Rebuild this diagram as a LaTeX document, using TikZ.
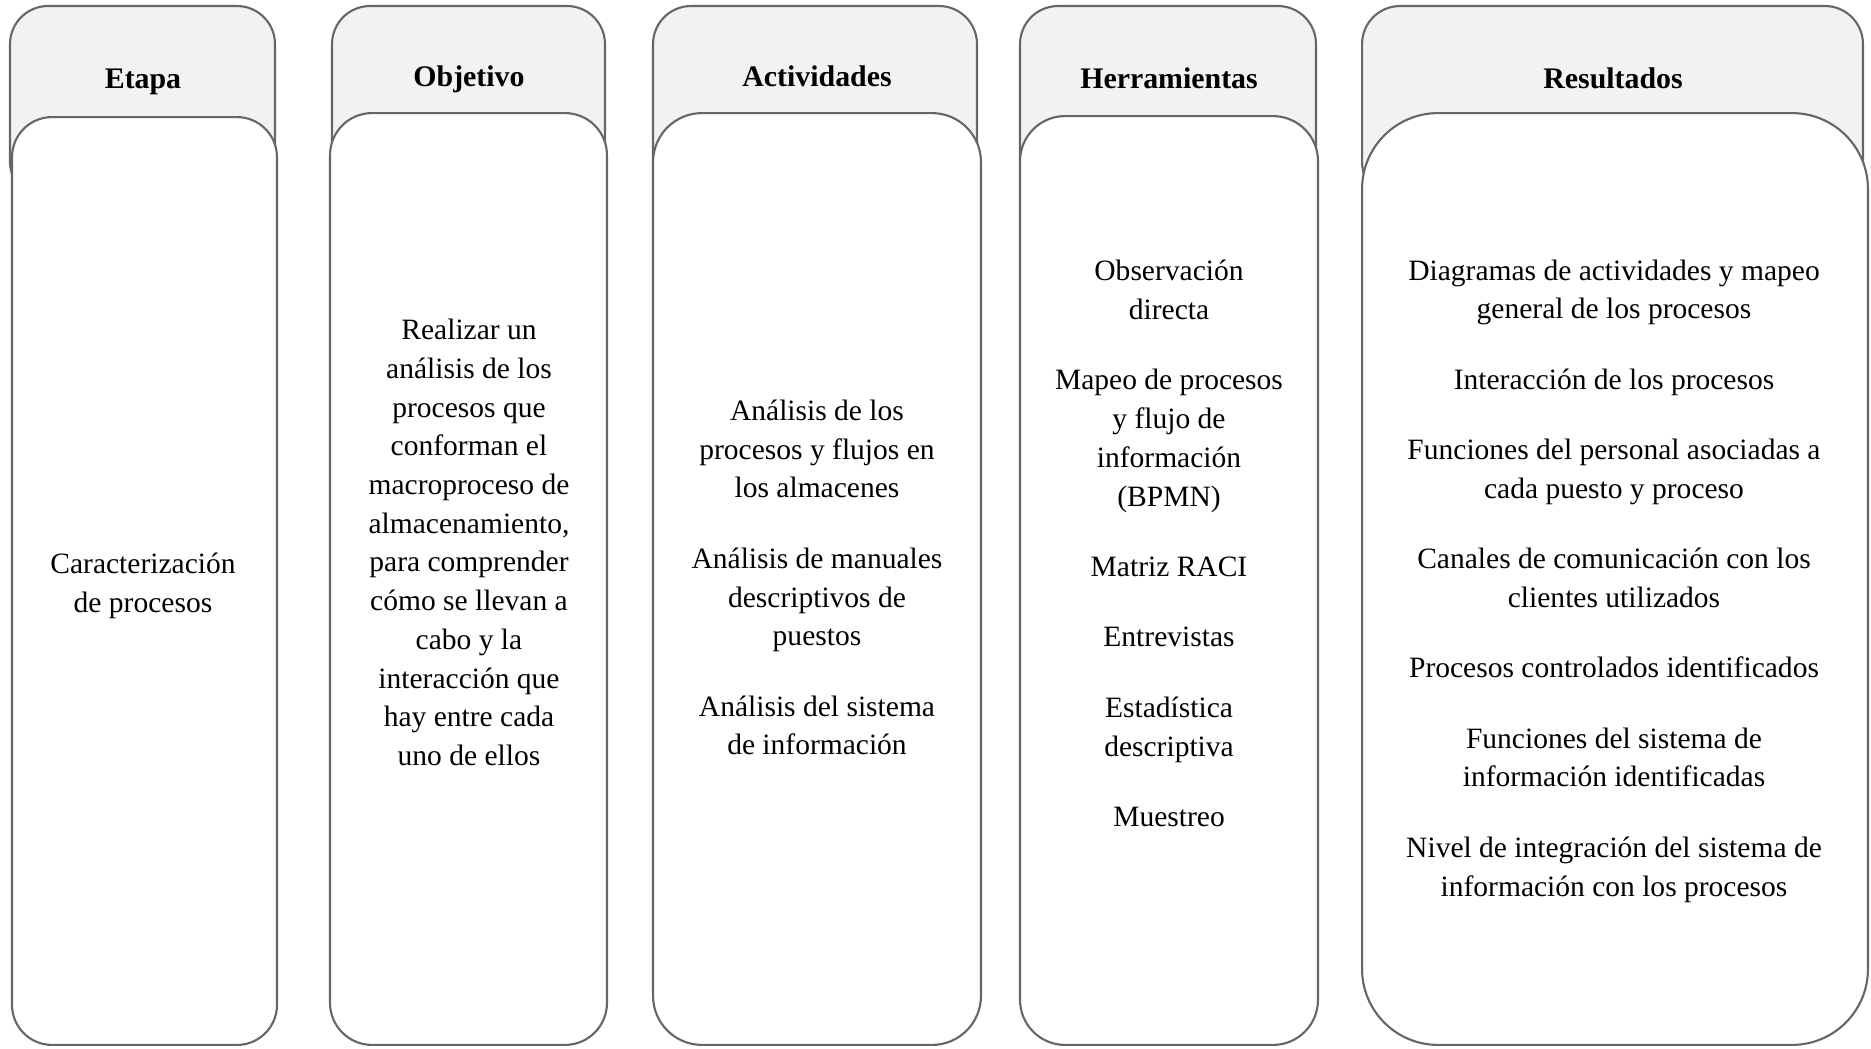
\documentclass[tikz,border=0pt]{standalone}
\usepackage{fontspec}
\setmainfont{Liberation Serif}
\definecolor{linegray}{HTML}{666666}
\definecolor{headfill}{HTML}{F2F2F2}
\begin{document}
\begin{tikzpicture}[x=0.02cm,y=-0.02cm,
  head/.style={draw=linegray, fill=headfill, line width=1.2pt, rounded corners=0.76cm,
    inner sep=0pt, minimum height=3.88cm},
  body/.style={draw=linegray, fill=white, line width=1.2pt, inner sep=0pt},
  title/.style={font=\fontsize{17}{20}\selectfont\bfseries, anchor=base, inner sep=0pt},
  txt/.style={align=center, font=\fontsize{16.8}{22.05}\selectfont, inner sep=0pt}]
\useasboundingbox (0,0) rectangle (1871,1048);

% column headers
\node[head, minimum width=5.30cm] (h1) at (142.5,103) {};
\node[head, minimum width=5.46cm] (h2) at (468.5,103) {};
\node[head, minimum width=6.48cm] (h3) at (815,103) {};
\node[head, minimum width=5.92cm] (h4) at (1168,103) {};
\node[head, minimum width=10.02cm] (h5) at (1612.5,103) {};

% column bodies
\node[body, rounded corners=0.80cm, minimum width=5.30cm, minimum height=18.56cm] (b1) at (144.5,581) {};
\node[body, rounded corners=0.84cm, minimum width=5.54cm, minimum height=18.64cm] (b2) at (468.5,579) {};
\node[body, rounded corners=0.98cm, minimum width=6.56cm, minimum height=18.64cm] (b3) at (817,579) {};
\node[body, rounded corners=0.90cm, minimum width=5.96cm, minimum height=18.58cm] (b4) at (1169,580.5) {};
\node[body, rounded corners=1.52cm, minimum width=10.12cm, minimum height=18.64cm] (b5) at (1615,579) {};

% titles
\node[title] (t1) at (143,88) {Etapa};
\node[title] (t2) at (469,86) {Objetivo};
\node[title] (t3) at (817,86) {Actividades};
\node[title] (t4) at (1169,88) {Herramientas};
\node[title] (t5) at (1613,88) {Resultados};

% contents
\node[txt] (c1) at (143,585.5) {Caracterización\\de procesos};
\node[txt] (c2) at (469,542.5) {Realizar un\\análisis de los\\procesos que\\conforman el\\macroproceso de\\almacenamiento,\\para comprender\\cómo se llevan a\\cabo y la\\interacción que\\hay entre cada\\uno de ellos};
\node[txt] (c3) at (817,577.5) {Análisis de los\\procesos y flujos en\\los almacenes\\[18pt]Análisis de manuales\\descriptivos de\\puestos\\[18pt]Análisis del sistema\\de información};
\node[txt] (c4) at (1169,543.5) {Observación\\directa\\[18pt]Mapeo de procesos\\y flujo de\\información\\(BPMN)\\[18pt]Matriz RACI\\[18pt]Entrevistas\\[18pt]Estadística\\descriptiva\\[18pt]Muestreo};
\node[txt] (c5) at (1614,581) {Diagramas de actividades y mapeo\\general de los procesos\\[18pt]Interacción de los procesos\\[18pt]Funciones del personal asociadas a\\cada puesto y proceso\\[18pt]Canales de comunicación con los\\clientes utilizados\\[18pt]Procesos controlados identificados\\[18pt]Funciones del sistema de\\información identificadas\\[18pt]Nivel de integración del sistema de\\información con los procesos};
\end{tikzpicture}
\end{document}
